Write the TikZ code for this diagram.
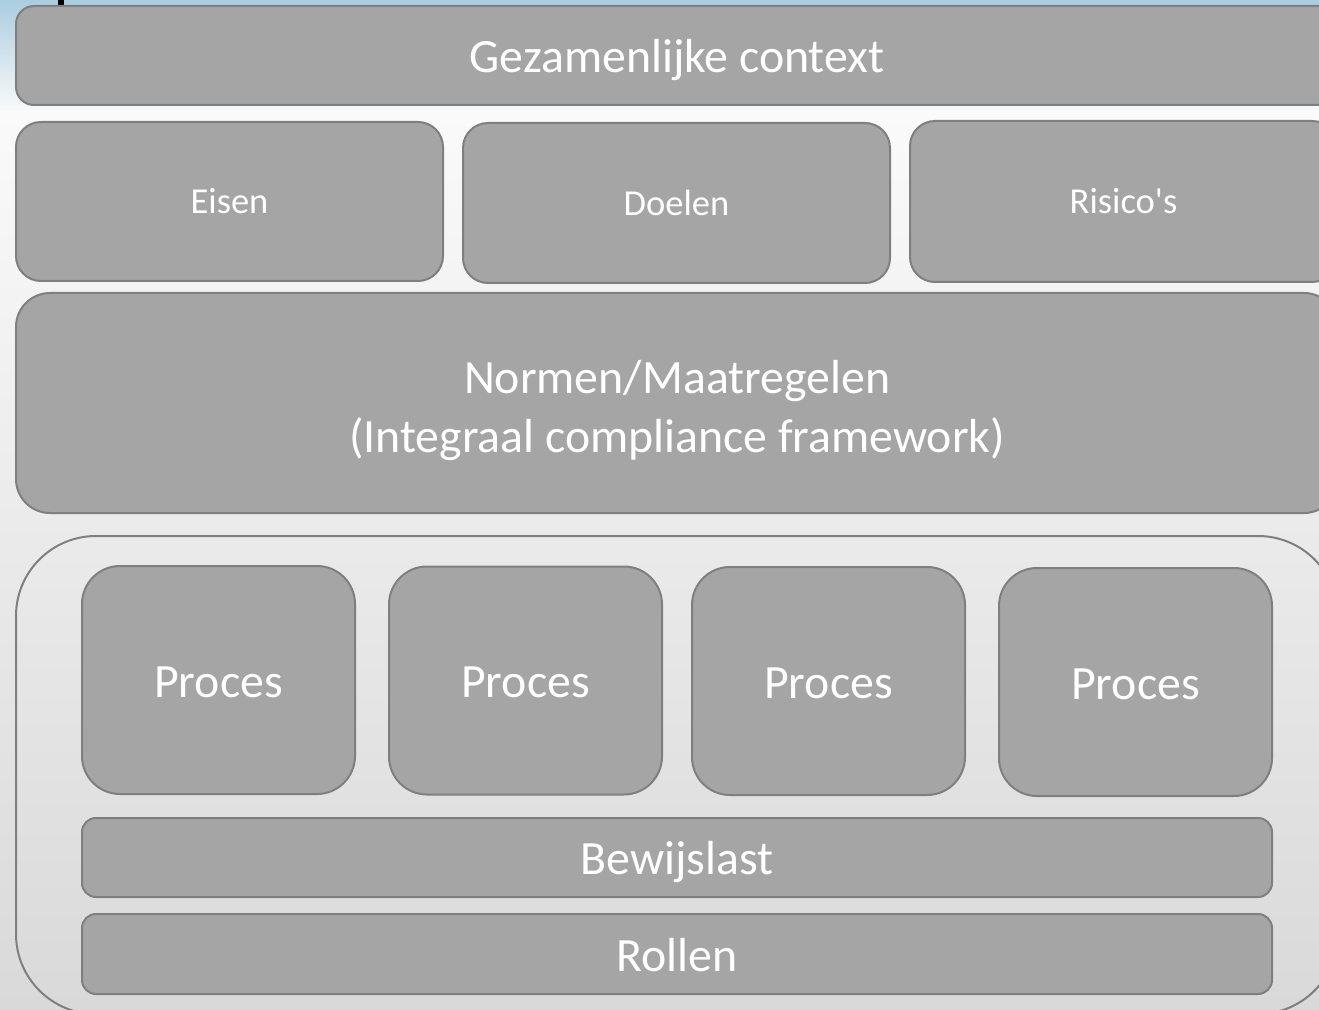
\documentclass[tikz,border=0pt]{standalone}
\usepackage{fontspec}
\setmainfont{Carlito}
\usepackage{tikz}
\usepackage{xcolor}
\usetikzlibrary{positioning}
\definecolor{blokgrijs}{HTML}{A5A5A5}
\definecolor{randgrijs}{HTML}{7F7F7F}
\definecolor{luchtblauw}{HTML}{AACDE0}
\definecolor{vloergrijs}{HTML}{D9D9D9}
\definecolor{bijnawit}{HTML}{FAFAFA}
\newdimen\px \px=0.02cm
\tikzset{%
  blok/.style={draw=randgrijs, fill=blokgrijs, line width=2\px, text=white,
    inner sep=0pt},
  groot/.style={font=\fontsize{27.2}{33.6}\selectfont, text height=26.4pt, text depth=7pt},
  klein/.style={font=\fontsize{20.8}{25}\selectfont, text height=18.8pt, text depth=5pt},
  %kaderlijn/.style={draw=randgrijs, line width=2\px}
}

\begin{document}
\begin{tikzpicture}[x=0.02cm,y=-0.02cm]
\useasboundingbox (0,0) rectangle (1319,1010);
\clip (0,0) rectangle (1319,1010);
% achtergrond
\shade[top color=luchtblauw, bottom color=bijnawit] (0,0) rectangle (1319,112);
\shade[top color=bijnawit, bottom color=vloergrijs] (0,112) rectangle (1319,1010);
\fill[black] (58,0) rectangle (64,5);
%
\node[blok, groot, minimum width=1322\px, minimum height=99\px, rounded corners=18\px] (context) at (677,55.5) {Gezamenlijke context};
\node[blok, klein, minimum width=427\px, minimum height=159\px, rounded corners=25\px] (eisen) at (229.5,201.5) {Eisen};
\node[blok, klein, minimum width=427\px, minimum height=160\px, rounded corners=25\px] (doelen) at (676.5,203) {Doelen};
\node[blok, klein, minimum width=427\px, minimum height=161\px, rounded corners=25\px] (risicos) at (1123.5,201.5) {Risico\textquotesingle s};
\node[blok, minimum width=1322\px, minimum height=220\px, rounded corners=34\px,
  label={[align=center, text=white, font=\fontsize{27.2}{33.6}\selectfont, inner sep=0pt, yshift=-7.5\px]center:Normen/Maatregelen\\(Integraal compliance framework)}] (normen) at (677,403) {};
% kader om de processen
\node[draw=randgrijs, line width=2\px, minimum width=1322\px, minimum height=478\px, rounded corners=80\px, inner sep=0pt] (kader) at (677,775) {};
\foreach \x/\y/\n in {218.5/680/1, 525.5/680.5/2, 828.5/681/3, 1135.5/682/4}
  \node[blok, groot, minimum width=273\px, minimum height=228\px, rounded corners=38\px] (proces\n) at (\x,\y) {Proces};
\node[blok, groot, minimum width=1190\px, minimum height=79\px, rounded corners=14\px] (bewijslast) at (677,857.5) {Bewijslast};
\node[blok, groot, minimum width=1190\px, minimum height=80\px, rounded corners=14\px] (rollen) at (677,954) {Rollen};
\end{tikzpicture}
\end{document}
